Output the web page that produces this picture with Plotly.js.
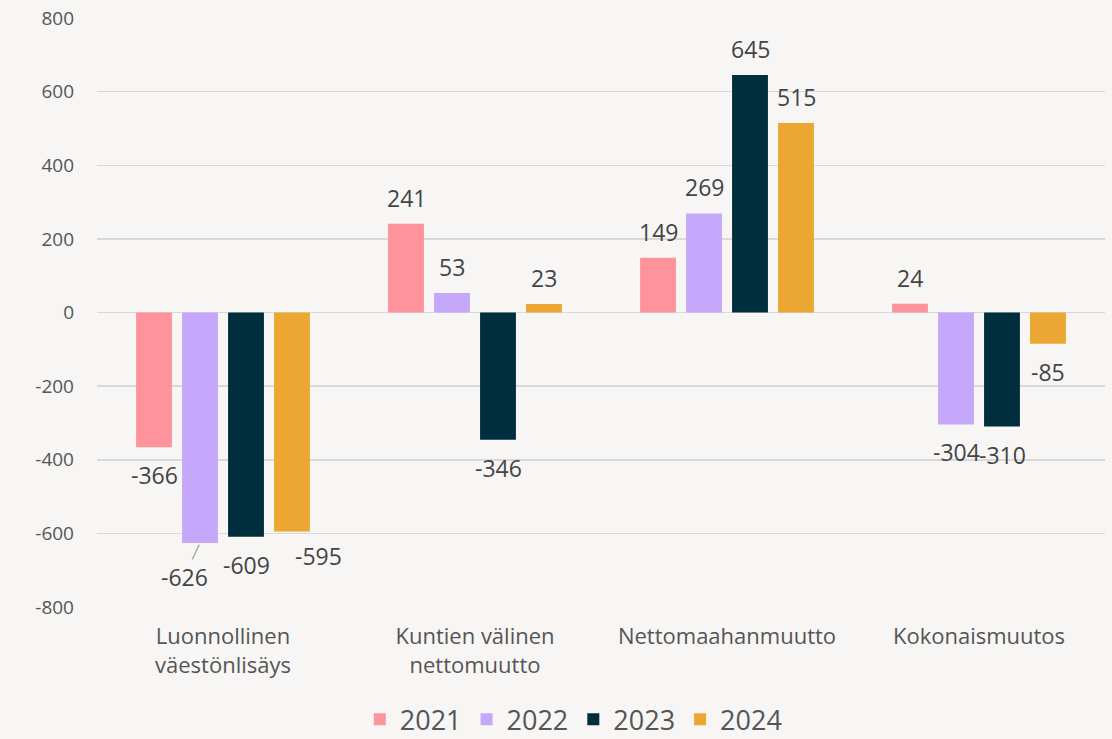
<!DOCTYPE html>
<html><head><meta charset="utf-8">
<script src="https://cdn.plot.ly/plotly-3.0.1.min.js"></script>
<style>html,body{margin:0;padding:0;background:#f7f6f4;}#chart{width:1112px;height:739px;}</style>
</head><body><div id="chart"></div>
<script>
const categories = ["Luonnollinen<br>väestönlisäys", "Kuntien välinen<br>nettomuutto", "Nettomaahanmuutto", "Kokonaismuutos"];
const seriesNames = ["2021", "2022", "2023", "2024"];
const v2021 = [-366, 241, 149, 24];
const v2022 = [-626, 53, 269, -304];
const v2023 = [-609, -346, 645, -310];
const v2024 = [-595, 23, 515, -85];
const yTicks = [-800, -600, -400, -200, 0, 200, 400, 600, 800];

const values = [v2021, v2022, v2023, v2024];
const colors = ["#ff939b", "#c5a7fc", "#002e3c", "#eba732"];
const font = "'Open Sans', 'Noto Sans', sans-serif";

const traces = values.map((vals, i) => ({
  type: "bar", name: seriesNames[i], x: categories, y: vals,
  marker: {color: colors[i]}, hoverinfo: "none"
}));

// label placement tweaks (pixels) for crowded labels: key = series|category
const nudges = {"1|0": {dx: -16, dy: 34, leader: true}, "3|0": {dx: 26, dy: -4}};

const slot = 46;
const annotations = [];
values.forEach((vals, i) => {
  vals.forEach((v, j) => {
    const n = nudges[i + "|" + j] || {dx: 0, dy: 0};
    const a = {
      x: categories[j], y: v, xref: "x", yref: "y",
      text: String(v),
      xshift: (i - 1.5) * slot,
      font: {family: font, size: 23, color: "#444444"}
    };
    if (n.leader) {
      Object.assign(a, {showarrow: true, arrowhead: 0, arrowwidth: 1.5, arrowcolor: "#aaaaaa",
        ax: n.dx, ay: n.dy, standoff: 2});
    } else {
      Object.assign(a, {showarrow: false,
        yanchor: v >= 0 ? "bottom" : "top",
        xshift: (i - 1.5) * slot + n.dx,
        yshift: v >= 0 ? 8 : -10 - n.dy});
    }
    annotations.push(a);
  });
});

const layout = {
  width: 1112, height: 739,
  paper_bgcolor: "#f7f6f4", plot_bgcolor: "#f7f6f4",
  margin: {l: 97, r: 7, t: 18, b: 132},
  barmode: "group", bargap: 0.27, bargroupgap: 0.22,
  font: {family: font, color: "#555555"},
  xaxis: {tickfont: {size: 22, color: "#555555"}, showgrid: false, zeroline: false, showline: false, ticks: "",
    ticklabelstandoff: 14},
  yaxis: {range: [-800, 800], tickvals: yTicks, ticktext: yTicks.map(String),
    tickfont: {size: 19, color: "#555555"}, gridcolor: "#d9d9d9", gridwidth: 1.5,
    zeroline: false, showline: false, ticklabelstandoff: 22},
  showlegend: true,
  legend: {orientation: "h", x: 0.473, xanchor: "center", yref: "container", y: 0.026, yanchor: "middle",
    font: {size: 27, color: "#555555"}, itemwidth: 30, traceorder: "normal"},
  annotations: annotations
};
Plotly.newPlot("chart", traces, layout, {displayModeBar: false, staticPlot: true});
</script></body></html>
